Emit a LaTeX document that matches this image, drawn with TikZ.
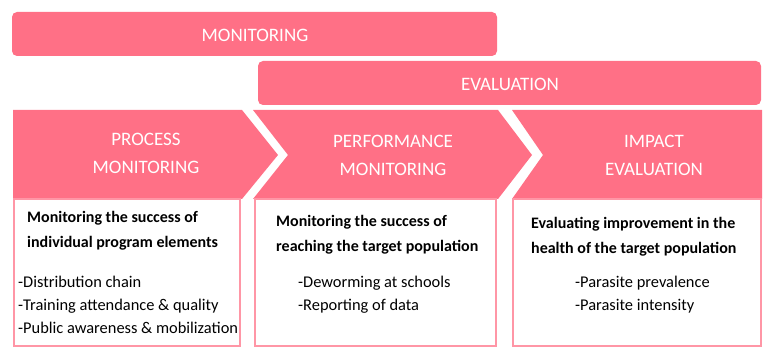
\documentclass[tikz,border=0pt]{standalone}
\usepackage{fontspec}
\setmainfont{Carlito}
\definecolor{barpink}{RGB}{255,112,134}
\definecolor{edgepink}{RGB}{255,150,166}

\begin{document}
\begin{tikzpicture}[x=1pt,y=-1pt,
  bar/.style={fill=barpink,rounded corners=5pt},
  stage/.style={fill=barpink},
  box/.style={draw=edgepink,line width=1.5pt,fill=white},
  head/.style={text=white,align=center,inner sep=0pt,
    font=\fontsize{19}{28}\selectfont},
  aim/.style={anchor=west,align=left,inner sep=0pt,
    font=\fontsize{16}{25}\selectfont\bfseries},
  items/.style={anchor=west,align=left,inner sep=0pt,
    font=\fontsize{16.4}{23}\selectfont}]
\useasboundingbox (0,0) rectangle (764,347);

% the two bars on top
\path[bar] (12,12) rectangle (497,56);
\path[bar] (258,61) rectangle (761,105);
\node[head] (mon) at (255,35) {MONITORING};
\node[head] (eva) at (510,84) {EVALUATION};

% the three stages
\path[stage] (13,110) -- (242,110) -- (278,155) -- (242,199) -- (13,199) -- cycle;
\path[stage] (253,110) -- (498,110) -- (532,155) -- (498,199) -- (253,199) -- (288,155) -- cycle;
\path[stage] (512,110) -- (762,110) -- (762,199) -- (512,199) -- (543,155) -- cycle;

\path[box] (14,199) rectangle (240,346);
\path[box] (255,199) rectangle (496,346);
\path[box] (513,199) rectangle (761,346);

\node[head] (procHead) at (146,153) {PROCESS\\MONITORING};
\node[head] (perfHead) at (393,155) {PERFORMANCE\\MONITORING};
\node[head] (impHead) at (654,155) {IMPACT\\EVALUATION};

\node[aim] (procAim) at (27,231) {Monitoring the success of\\individual program elements};
\node[aim] (perfAim) at (276,235) {Monitoring the success of\\reaching the target population};
\node[aim] (impAim) at (531,237) {Evaluating improvement in the\\health of the target population};

\node[items] (procList) at (18,305) {-Distribution chain\\-Training attendance \& quality\\-Public awareness \& mobilization};
\node[items] (perfList) at (298,295) {-Deworming at schools\\-Reporting of data};
\node[items] (impList) at (575,295) {-Parasite prevalence\\-Parasite intensity};

\end{tikzpicture}
\end{document}
